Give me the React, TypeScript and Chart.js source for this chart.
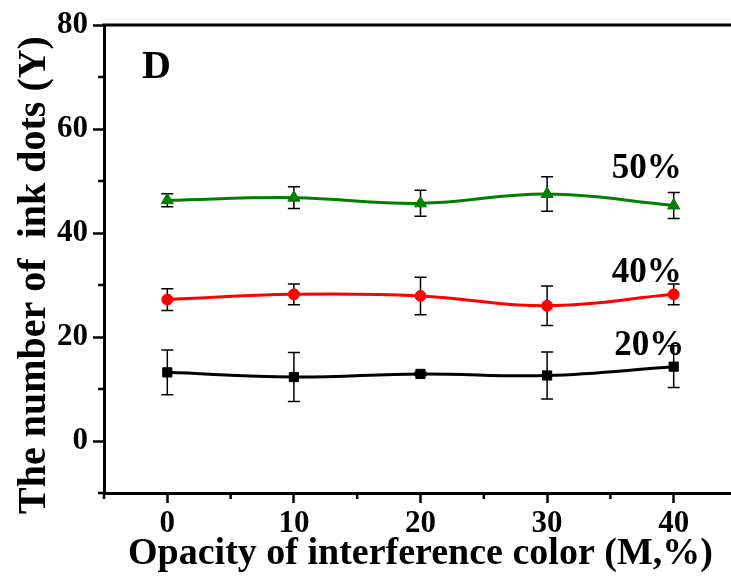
import React, { useEffect, useRef } from "react";
import { Chart, registerables } from "chart.js";

Chart.register(...registerables);

// ---- data ----
const opacity = [0, 10, 20, 30, 40];
const dots50 = [46.3, 46.8, 45.7, 47.5, 45.3];
const err50 = [1.25, 2.1, 2.5, 3.3, 2.5];
const dots40 = [27.2, 28.2, 27.9, 26.0, 28.2];
const err40 = [2.1, 2.0, 3.6, 3.8, 2.0];
const dots20 = [13.2, 12.3, 12.9, 12.6, 14.3];
const err20 = [4.3, 4.7, 0.3, 4.5, 4.0];

const seriesNames = ["50%", "40%", "20%"];
const nameX = [35.1, 35.1, 35.3];
const nameY = [50.6, 30.6, 16.5];

const xMajorTicks = [0, 10, 20, 30, 40];
const xMinorTicks = [-5, 5, 15, 25, 35, 45];
const yMajorTicks = [0, 20, 40, 60, 80];
const yMinorTicks = [-10, 10, 30, 50, 70];

const xTitle = "Opacity of interference color (M,%)";
const yTitle = "The number of  ink dots (Y)";
const panelLabel = "D";

const FONT = '"Liberation Serif", "Times New Roman", serif';

const errorBarPlugin = {
  id: "errorBars",
  beforeDatasetsDraw(chart: any) {
    const ctx = chart.ctx;
    const xs = chart.scales.x;
    const ys = chart.scales.y;
    ctx.save();
    ctx.strokeStyle = "#000";
    ctx.lineWidth = 1.5;
    chart.data.datasets.forEach((ds: any) => {
      const errs: number[] = ds.errors || [];
      ds.data.forEach((pt: any, j: number) => {
        const e = errs[j];
        if (!e) return;
        const px = xs.getPixelForValue(pt.x);
        const yt = ys.getPixelForValue(pt.y + e);
        const yb = ys.getPixelForValue(pt.y - e);
        const cap = 6;
        ctx.beginPath();
        ctx.moveTo(px, yt);
        ctx.lineTo(px, yb);
        ctx.moveTo(px - cap, yt);
        ctx.lineTo(px + cap, yt);
        ctx.moveTo(px - cap, yb);
        ctx.lineTo(px + cap, yb);
        ctx.stroke();
      });
    });
    ctx.restore();
  },
};

const decorPlugin = {
  id: "decor",
  afterDraw(chart: any) {
    const ctx = chart.ctx;
    const { left, right, top, bottom } = chart.chartArea;
    const xs = chart.scales.x;
    const ys = chart.scales.y;
    ctx.save();
    // frame top & right
    ctx.strokeStyle = "#000";
    ctx.lineWidth = 3;
    ctx.beginPath();
    ctx.moveTo(left - 1.5, top);
    ctx.lineTo(right, top);
    ctx.lineTo(right, bottom);
    ctx.stroke();
    // minor ticks
    ctx.lineWidth = 2.5;
    ctx.beginPath();
    xMinorTicks.forEach((v) => {
      const px = xs.getPixelForValue(v);
      ctx.moveTo(px, bottom);
      ctx.lineTo(px, bottom + 6);
    });
    yMinorTicks.forEach((v) => {
      const py = ys.getPixelForValue(v);
      ctx.moveTo(left, py);
      ctx.lineTo(left - 6, py);
    });
    ctx.stroke();
    // series labels
    ctx.fillStyle = "#000";
    ctx.font = `bold 35px ${FONT}`;
    ctx.textAlign = "left";
    ctx.textBaseline = "alphabetic";
    seriesNames.forEach((name, i) => {
      ctx.fillText(name, xs.getPixelForValue(nameX[i]), ys.getPixelForValue(nameY[i]));
    });
    // panel label
    ctx.font = `bold 40px ${FONT}`;
    ctx.fillText(panelLabel, left + 38, top + 53);
    // y axis title
    ctx.font = `bold 40px ${FONT}`;
    ctx.textAlign = "center";
    ctx.textBaseline = "alphabetic";
    ctx.translate(45, 275);
    ctx.rotate(-Math.PI / 2);
    ctx.fillText(yTitle, 0, 0);
    ctx.restore();
  },
};

export default function App() {
  const ref = useRef<HTMLCanvasElement>(null);
  useEffect(() => {
    if (!ref.current) return;
    const chart = new Chart(ref.current, {
      type: "line",
      data: {
        datasets: [
          {
            label: seriesNames[0],
            data: dots50.map((v, i) => ({ x: opacity[i], y: v })) as any,
            errors: err50,
            borderColor: "#008000",
            backgroundColor: "#008000",
            borderWidth: 3,
            pointStyle: "triangle",
            pointRadius: 7,
            pointBorderWidth: 1,
            tension: 0.4,
          } as any,
          {
            label: seriesNames[1],
            data: dots40.map((v, i) => ({ x: opacity[i], y: v })) as any,
            errors: err40,
            borderColor: "#ff0000",
            backgroundColor: "#ff0000",
            borderWidth: 3,
            pointStyle: "circle",
            pointRadius: 5.5,
            pointBorderWidth: 1,
            tension: 0.4,
          } as any,
          {
            label: seriesNames[2],
            data: dots20.map((v, i) => ({ x: opacity[i], y: v })) as any,
            errors: err20,
            borderColor: "#000000",
            backgroundColor: "#000000",
            borderWidth: 3,
            pointStyle: "rect",
            pointRadius: 6.5,
            pointBorderWidth: 1,
            tension: 0.4,
          } as any,
        ],
      },
      options: {
        responsive: false,
        animation: false,
        devicePixelRatio: 1,
        layout: { padding: { top: 25, right: 6.5, left: 0, bottom: 0 } },
        plugins: { legend: { display: false }, tooltip: { enabled: false } },
        scales: {
          x: {
            type: "linear",
            min: -5,
            max: 45,
            afterBuildTicks: (s: any) => {
              s.ticks = xMajorTicks.map((v) => ({ value: v }));
            },
            afterFit: (s: any) => {
              s.height = 87;
            },
            grid: {
              drawOnChartArea: false,
              drawTicks: true,
              tickLength: 10,
              tickWidth: 2.5,
              tickColor: "#000",
            },
            border: { display: true, width: 3, color: "#000" },
            ticks: {
              color: "#000",
              padding: 2,
              maxRotation: 0,
              font: { family: FONT, size: 31, weight: "bold" },
            },
            title: {
              display: true,
              text: xTitle,
              color: "#000",
              font: { family: FONT, size: 38, weight: "bold", lineHeight: 1 },
              padding: { top: 0, bottom: 7 },
            },
          },
          y: {
            type: "linear",
            min: -10,
            max: 80,
            afterBuildTicks: (s: any) => {
              s.ticks = yMajorTicks.map((v) => ({ value: v }));
            },
            afterFit: (s: any) => {
              s.width = 104;
            },
            grid: {
              drawOnChartArea: false,
              drawTicks: true,
              tickLength: 11,
              tickWidth: 2.5,
              tickColor: "#000",
            },
            border: { display: true, width: 3, color: "#000" },
            ticks: {
              color: "#000",
              padding: 5,
              font: { family: FONT, size: 31, weight: "bold" },
            },
            title: { display: false, text: yTitle },
          },
        },
      },
      plugins: [errorBarPlugin, decorPlugin],
    } as any);
    return () => chart.destroy();
  }, []);
  return (
    <div
      style={{
        position: "fixed",
        left: 0,
        top: 0,
        width: 731,
        height: 580,
        overflow: "hidden",
        background: "#fff",
      }}
    >
      <canvas ref={ref} width={745} height={580} style={{ display: "block", width: 745, height: 580 }} />
    </div>
  );
}
